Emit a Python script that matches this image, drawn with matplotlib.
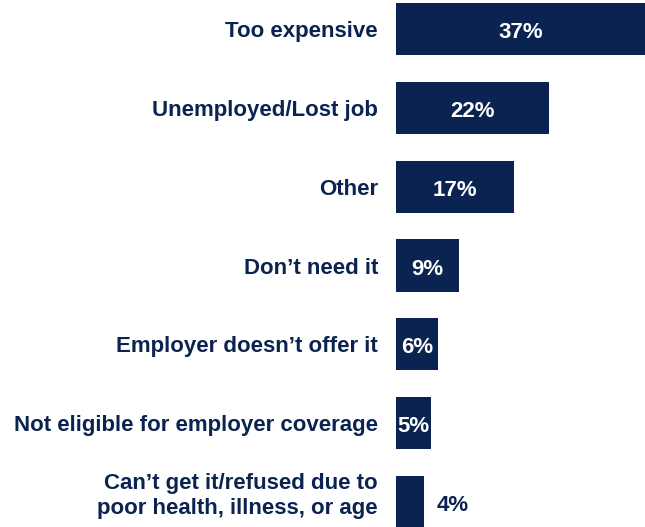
import matplotlib.pyplot as plt

categories = [
    "Too expensive",
    "Unemployed/Lost job",
    "Other",
    "Don\u2019t need it",
    "Employer doesn\u2019t offer it",
    "Not eligible for employer coverage",
    "Can\u2019t get it/refused due to\npoor health, illness, or age",
]
values = [37, 22, 17, 9, 6, 5, 4]

navy = "#0a2351"
plt.rcParams["font.family"] = ["Liberation Sans", "DejaVu Sans"]

fig = plt.figure(figsize=(6.45, 5.27), dpi=100)
ax = fig.add_axes([396 / 645, 0, 1 - 396 / 645, 1])

y = list(range(len(categories)))
ax.barh(y, values, height=0.66, color=navy)

xmax = (645 - 396) / 6.95
ax.set_xlim(0, xmax)
ax.set_ylim(len(categories) - 1 + 0.317, -0.368)

px = 72 / 100  # points per pixel
for yi, v, cat in zip(y, values, categories):
    # category label, baseline placed so the caps sit centred on the bar
    dy = -8 if "\n" not in cat else -12
    ax.annotate(cat, (0, yi), xytext=(-18 * px, dy * px), textcoords="offset points",
                ha="right", va="baseline", fontsize=16, fontweight="bold",
                color=navy, linespacing=1.25)
    if v >= 5:
        xc = min(v, xmax) / 2
        ax.annotate(f"{v}%", (xc, yi), xytext=(0, -9 * px), textcoords="offset points",
                    ha="center", va="baseline", fontsize=16, fontweight="bold",
                    color="white")
    else:
        ax.annotate(f"{v}%", (v, yi), xytext=(13 * px, -9 * px), textcoords="offset points",
                    ha="left", va="baseline", fontsize=16, fontweight="bold",
                    color=navy)

ax.axis("off")
fig.savefig("out.png", dpi=100)
